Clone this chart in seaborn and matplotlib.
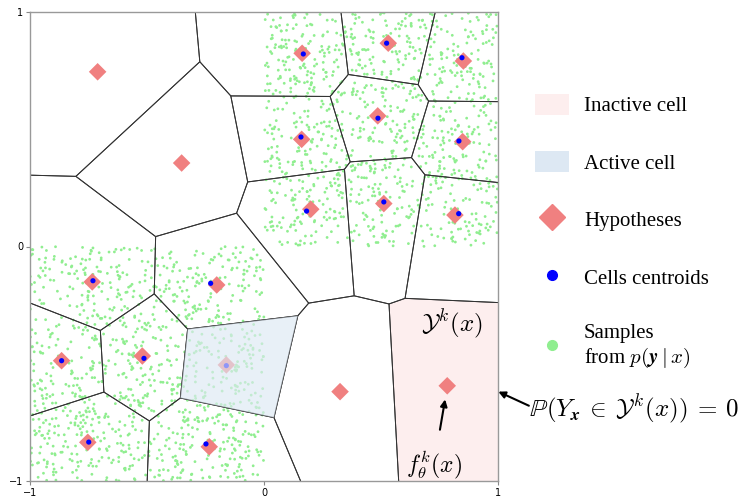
import numpy as np
import pandas as pd
import matplotlib
matplotlib.use("Agg")
import matplotlib.pyplot as plt
import seaborn as sns
from matplotlib.patches import Patch, Polygon
from matplotlib.lines import Line2D
from matplotlib.collections import LineCollection

# Hypotheses f_theta^k(x): positions of the 20 predictions
hyp_x = [-0.711, -0.352, 0.163, 0.531, 0.852, 0.161, 0.486, 0.849, 0.200, 0.512,
         0.816, -0.734, -0.202, -0.865, -0.520, -0.161, -0.753, -0.234, 0.325, 0.783]
hyp_y = [0.745, 0.356, 0.824, 0.867, 0.791, 0.457, 0.557, 0.447, 0.159, 0.183,
         0.134, -0.151, -0.164, -0.487, -0.467, -0.505, -0.835, -0.854, -0.619, -0.594]

# Centroids of the samples falling into each non-empty cell
cen_x = [0.168, 0.524, 0.846, 0.158, 0.487, 0.833, 0.182, 0.512, 0.832,
         -0.731, -0.228, -0.865, -0.513, -0.161, -0.749, -0.248]
cen_y = [0.821, 0.867, 0.805, 0.467, 0.547, 0.450, 0.151, 0.190, 0.140,
         -0.146, -0.157, -0.487, -0.477, -0.508, -0.834, -0.842]

# Support of p(y | x): two unit squares (x0, x1, y0, y1)
support = [(0.0, 1.0, 0.0, 1.0), (-1.0, 0.0, -1.0, 0.0)]
n_samples_per_square = 1100

active_cell = 15     # index of the hypothesis whose cell is highlighted as active
inactive_cell = 19   # index of the hypothesis whose cell receives no mass

domain = np.array([[-1, -1], [1, -1], [1, 1], [-1, 1]], dtype=float)


def clip_halfplane(poly, a, b):
    """Keep the part of polygon where a . p <= b."""
    out = []
    n = len(poly)
    for k in range(n):
        p, q = poly[k], poly[(k + 1) % n]
        fp, fq = a @ p - b, a @ q - b
        if fp <= 0:
            out.append(p)
        if fp * fq < 0:
            t = fp / (fp - fq)
            out.append(p + t * (q - p))
    return np.array(out)


def voronoi_cells(sites):
    cells = []
    for i, s in enumerate(sites):
        poly = domain.copy()
        for j, o in enumerate(sites):
            if i == j:
                continue
            a = 2 * (o - s)
            b = o @ o - s @ s
            poly = clip_halfplane(poly, a, b)
        cells.append(poly)
    return cells


sites = np.column_stack([hyp_x, hyp_y])
cells = voronoi_cells(sites)

# Samples from p(y | x), uniform on the support squares
rng = np.random.default_rng(7)
sx, sy = [], []
for x0, x1, y0, y1 in support:
    sx.append(rng.uniform(x0, x1, n_samples_per_square))
    sy.append(rng.uniform(y0, y1, n_samples_per_square))
samples = pd.DataFrame({"x": np.concatenate(sx), "y": np.concatenate(sy)})
hyps = pd.DataFrame({"x": hyp_x, "y": hyp_y})
cents = pd.DataFrame({"x": cen_x, "y": cen_y})

plt.rcParams["mathtext.fontset"] = "cm"

fig = plt.figure(figsize=(7.42, 4.97), dpi=100)
ax = fig.add_axes([30 / 742, 16 / 497, 468 / 742, 469 / 497])

inactive_color = "#fdeeee"
active_color = "#dde8f3"

ax.add_patch(Polygon(cells[inactive_cell], closed=True, facecolor=inactive_color,
                     edgecolor="none", zorder=0))

sns.scatterplot(data=samples, x="x", y="y", ax=ax, s=4, color="#90ee90",
                edgecolor="none", linewidth=0, zorder=1, legend=False)

segs = []
for poly in cells:
    for k in range(len(poly)):
        segs.append([poly[k], poly[(k + 1) % len(poly)]])
ax.add_collection(LineCollection(segs, colors="#333333", linewidths=0.7, zorder=2))

sns.scatterplot(data=hyps, x="x", y="y", ax=ax, marker="D", s=80, color="#f08080",
                edgecolor="none", linewidth=0, zorder=3, legend=False)
sns.scatterplot(data=cents, x="x", y="y", ax=ax, marker="o", s=14, color="blue",
                edgecolor="none", linewidth=0, zorder=4, legend=False)

ax.add_patch(Polygon(cells[active_cell], closed=True, facecolor=active_color,
                     edgecolor="none", alpha=0.65, zorder=5))

ax.set_xlim(-1, 1)
ax.set_ylim(-1, 1)
ax.set_xticks([-1, 0, 1])
ax.set_yticks([-1, 0, 1])
ax.set_xticklabels(["\u22121", "0", "1"])
ax.set_yticklabels(["\u22121", "0", "1"])
ax.set_xlabel("")
ax.set_ylabel("")
ax.tick_params(labelsize=7, length=3, width=0.8, color="#888888", pad=2)
for sp in ax.spines.values():
    sp.set_color("#999999")
    sp.set_linewidth(1.0)
    sp.set_zorder(6)

# Annotations
ax.text(0.803, -0.330, r"$\mathcal{Y}^k(x)$", fontsize=18, ha="center", va="center", zorder=7)
ax.annotate(r"$f_\theta^k(x)$", xy=(0.774, -0.652), xytext=(0.726, -0.932),
            fontsize=17, ha="center", va="center", zorder=7,
            arrowprops=dict(arrowstyle="-|>", color="black", lw=1.5,
                            mutation_scale=10, shrinkA=12, shrinkB=0))
ax.annotate(r"$\mathbb{P}(Y_{\boldsymbol{x}} \:\in\: \mathcal{Y}^k(x)) \:=\: 0$",
            xy=(1.0013, -0.619), xycoords="data",
            xytext=(634 / 742, 1 - 409 / 497), textcoords="figure fraction",
            fontsize=18, ha="center", va="center", annotation_clip=False,
            arrowprops=dict(arrowstyle="-|>", color="black", lw=1.5,
                            mutation_scale=10, shrinkA=0, shrinkB=0,
                            patchA=None, relpos=(0.0, 0.6)))

handles = [
    Patch(facecolor=inactive_color, edgecolor="none"),
    Patch(facecolor=active_color, edgecolor="none"),
    Line2D([], [], marker="D", color="#f08080", linestyle="none", markersize=13),
    Line2D([], [], marker="o", color="blue", linestyle="none", markersize=7),
    Line2D([], [], marker="o", color="#90ee90", linestyle="none", markersize=7),
]
labels = ["Inactive cell", "Active cell", "Hypotheses", "Cells centroids",
          "Samples\nfrom $p(\\boldsymbol{y} \\mid x)$"]
fig.legend(handles, labels, loc="upper left", bbox_to_anchor=(535 / 742, 1 - 94 / 497),
           frameon=False, prop={"family": "Liberation Serif", "size": 15},
           labelspacing=1.68, handlelength=1.65, handleheight=1.15, handletextpad=0.7,
           borderpad=0, borderaxespad=0)

fig.savefig("out.png", dpi=100)
